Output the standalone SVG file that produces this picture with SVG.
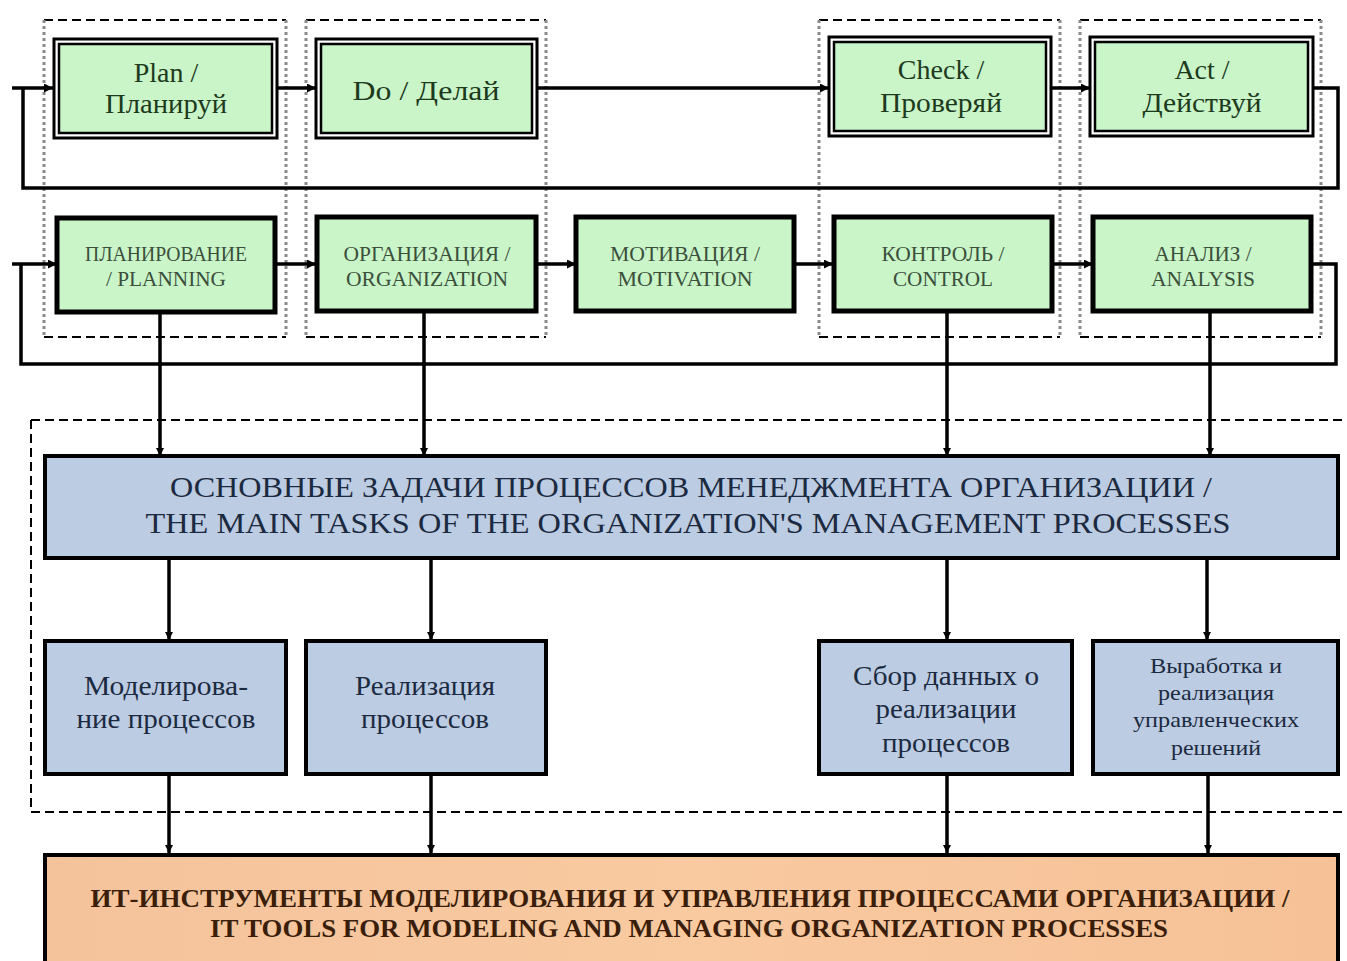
<svg xmlns="http://www.w3.org/2000/svg" width="1347" height="961" viewBox="0 0 1347 961">
<defs>
<marker id="ah" viewBox="0 0 10 10" refX="10" refY="5" markerWidth="13" markerHeight="9" markerUnits="userSpaceOnUse" orient="auto">
<path d="M0,0 L10,5 L0,10 Z" fill="#000"/>
</marker>
<marker id="av" viewBox="0 0 10 10" refX="10" refY="5" markerWidth="10" markerHeight="8" markerUnits="userSpaceOnUse" orient="auto">
<path d="M0,0 L10,5 L0,10 Z" fill="#000"/>
</marker>
<linearGradient id="og" x1="0" y1="0" x2="1" y2="0">
<stop offset="0" stop-color="#f4c39c"/>
<stop offset="0.5" stop-color="#f9c9a0"/>
<stop offset="1" stop-color="#f6c197"/>
</linearGradient>
</defs>
<style>
.frameH{stroke:#000;stroke-width:2;stroke-dasharray:9 5;fill:none}
.frameV{stroke:#8a8a8a;stroke-width:3;stroke-dasharray:3 3;fill:none}
.dbl-out{fill:#fff;stroke:#000;stroke-width:3}
.dbl-in{fill:#c9f5c9;stroke:#000;stroke-width:2.5}
.grn{fill:#c9f5c9;stroke:#000;stroke-width:5}
.blu{fill:#bccce2;stroke:#000;stroke-width:4}
.org{fill:url(#og);stroke:#000;stroke-width:4}
.con{stroke:#000;stroke-width:3.5;fill:none}
text{font-family:"Liberation Serif","Times New Roman",serif;text-anchor:middle}
.t1{font-size:28px;fill:#1d3a1d}
.t2{font-size:22px;fill:#3b4f3b}
.tb{font-size:30px;fill:#1b2a40}
.ts{font-size:28px;fill:#1b2a40}
.tss{font-size:21px;fill:#1b2a40}
.to{font-size:26px;font-weight:bold;fill:#3a1e0a}
</style>
<rect width="1347" height="961" fill="#fff"/>

<g id="frames">
<path class="frameH" d="M44,20 H286 M306,20 H546 M819,20 H1060 M1080,20 H1321"/>
<path class="frameH" d="M44,337 H286 M306,337 H546 M819,337 H1060 M1080,337 H1321"/>
<path class="frameV" d="M44,20 V337 M286,20 V337 M306,20 V337 M546,20 V337 M819,20 V337 M1060,20 V337 M1080,20 V337 M1321,20 V337"/>
<path class="frameH" d="M31,420 H1347 M31,812 H1347"/>
<path stroke="#000" stroke-width="2" stroke-dasharray="9 5" fill="none" d="M31,420 V812"/>
</g>

<g id="connectors">
<path class="con" d="M1313,88 H1338 V188 H23 V88"/>
<path class="con" d="M12,88 H53" marker-end="url(#ah)"/>
<path class="con" d="M277,88 H316" marker-end="url(#ah)"/>
<path class="con" d="M537,88 H829" marker-end="url(#ah)"/>
<path class="con" d="M1051,88 H1090" marker-end="url(#ah)"/>
<path class="con" d="M1311,264 H1336 V364 H21 V264"/>
<path class="con" d="M12,264 H57" marker-end="url(#ah)"/>
<path class="con" d="M275,264 H316" marker-end="url(#ah)"/>
<path class="con" d="M536,264 H576" marker-end="url(#ah)"/>
<path class="con" d="M794,264 H833" marker-end="url(#ah)"/>
<path class="con" d="M1052,264 H1093" marker-end="url(#ah)"/>
<path class="con" d="M160,313 V456" marker-end="url(#av)"/>
<path class="con" d="M424,312 V456" marker-end="url(#av)"/>
<path class="con" d="M947,312 V456" marker-end="url(#av)"/>
<path class="con" d="M1210,312 V456" marker-end="url(#av)"/>
<path class="con" d="M169,558 V640" marker-end="url(#av)"/>
<path class="con" d="M431,558 V640" marker-end="url(#av)"/>
<path class="con" d="M947,558 V640" marker-end="url(#av)"/>
<path class="con" d="M1207,558 V640" marker-end="url(#av)"/>
<path class="con" d="M169,775 V853" marker-end="url(#av)"/>
<path class="con" d="M431,775 V853" marker-end="url(#av)"/>
<path class="con" d="M947,775 V853" marker-end="url(#av)"/>
<path class="con" d="M1208,775 V853" marker-end="url(#av)"/>
</g>

<g id="plan">
<rect class="dbl-out" x="54" y="39" width="223" height="99"/>
<rect class="dbl-in" x="59" y="44" width="213" height="89"/>
<text class="t1" x="166" y="82">Plan /</text>
<text class="t1" x="166" y="113" textLength="122" lengthAdjust="spacingAndGlyphs">Планируй</text>
</g>
<g id="do">
<rect class="dbl-out" x="316" y="39" width="221" height="99"/>
<rect class="dbl-in" x="321" y="44" width="211" height="89"/>
<text class="t1" x="426" y="100" font-size="30" textLength="147" lengthAdjust="spacingAndGlyphs">Do / Делай</text>
</g>
<g id="check">
<rect class="dbl-out" x="829" y="37" width="222" height="99"/>
<rect class="dbl-in" x="834" y="42" width="212" height="89"/>
<text class="t1" x="941" y="79">Check /</text>
<text class="t1" x="941" y="112" textLength="122" lengthAdjust="spacingAndGlyphs">Проверяй</text>
</g>
<g id="act">
<rect class="dbl-out" x="1090" y="37" width="223" height="99"/>
<rect class="dbl-in" x="1095" y="42" width="213" height="89"/>
<text class="t1" x="1202" y="79">Act /</text>
<text class="t1" x="1202" y="112" textLength="119" lengthAdjust="spacingAndGlyphs">Действуй</text>
</g>

<g id="planning">
<rect class="grn" x="57" y="218" width="218" height="94"/>
<text class="t2" x="166" y="261" textLength="162" lengthAdjust="spacingAndGlyphs">ПЛАНИРОВАНИЕ</text>
<text class="t2" x="166" y="286" textLength="120" lengthAdjust="spacingAndGlyphs">/ PLANNING</text>
</g>
<g id="organization">
<rect class="grn" x="317" y="217" width="219" height="94"/>
<text class="t2" x="427" y="261" textLength="167" lengthAdjust="spacingAndGlyphs">ОРГАНИЗАЦИЯ /</text>
<text class="t2" x="427" y="286" textLength="162" lengthAdjust="spacingAndGlyphs">ORGANIZATION</text>
</g>
<g id="motivation">
<rect class="grn" x="576" y="217" width="218" height="94"/>
<text class="t2" x="685" y="261" textLength="150" lengthAdjust="spacingAndGlyphs">МОТИВАЦИЯ /</text>
<text class="t2" x="685" y="286" textLength="135" lengthAdjust="spacingAndGlyphs">MOTIVATION</text>
</g>
<g id="control">
<rect class="grn" x="834" y="217" width="218" height="94"/>
<text class="t2" x="943" y="261" textLength="123" lengthAdjust="spacingAndGlyphs">КОНТРОЛЬ /</text>
<text class="t2" x="943" y="286" textLength="100" lengthAdjust="spacingAndGlyphs">CONTROL</text>
</g>
<g id="analysis">
<rect class="grn" x="1093" y="217" width="218" height="94"/>
<text class="t2" x="1203" y="261" textLength="97" lengthAdjust="spacingAndGlyphs">АНАЛИЗ /</text>
<text class="t2" x="1203" y="286" textLength="104" lengthAdjust="spacingAndGlyphs">ANALYSIS</text>
</g>

<g id="main-tasks">
<rect class="blu" x="45" y="456" width="1293" height="102"/>
<text class="tb" x="691" y="497" textLength="1042" lengthAdjust="spacingAndGlyphs">ОСНОВНЫЕ ЗАДАЧИ ПРОЦЕССОВ МЕНЕДЖМЕНТА ОРГАНИЗАЦИИ /</text>
<text class="tb" x="688" y="533" textLength="1085" lengthAdjust="spacingAndGlyphs">THE MAIN TASKS OF THE ORGANIZATION'S MANAGEMENT PROCESSES</text>
</g>

<g id="modeling">
<rect class="blu" x="45" y="641" width="241" height="133"/>
<text class="ts" x="166" y="695" textLength="164" lengthAdjust="spacingAndGlyphs">Моделирова-</text>
<text class="ts" x="166" y="728" textLength="179" lengthAdjust="spacingAndGlyphs">ние процессов</text>
</g>
<g id="realization">
<rect class="blu" x="306" y="641" width="240" height="133"/>
<text class="ts" x="425" y="695" textLength="140" lengthAdjust="spacingAndGlyphs">Реализация</text>
<text class="ts" x="425" y="728" textLength="128" lengthAdjust="spacingAndGlyphs">процессов</text>
</g>
<g id="data-collection">
<rect class="blu" x="819" y="641" width="253" height="133"/>
<text class="ts" x="946" y="685" textLength="186" lengthAdjust="spacingAndGlyphs">Сбор данных о</text>
<text class="ts" x="946" y="718" textLength="141" lengthAdjust="spacingAndGlyphs">реализации</text>
<text class="ts" x="946" y="752" textLength="128" lengthAdjust="spacingAndGlyphs">процессов</text>
</g>
<g id="decisions">
<rect class="blu" x="1093" y="641" width="245" height="133"/>
<text class="tss" x="1216" y="673" textLength="132" lengthAdjust="spacingAndGlyphs">Выработка и</text>
<text class="tss" x="1216" y="700" textLength="116" lengthAdjust="spacingAndGlyphs">реализация</text>
<text class="tss" x="1216" y="727" textLength="166" lengthAdjust="spacingAndGlyphs">управленческих</text>
<text class="tss" x="1216" y="755" textLength="90" lengthAdjust="spacingAndGlyphs">решений</text>
</g>

<g id="it-tools">
<rect class="org" x="45" y="855" width="1293" height="115"/>
<text class="to" x="690" y="907" textLength="1199" lengthAdjust="spacingAndGlyphs">ИТ-ИНСТРУМЕНТЫ МОДЕЛИРОВАНИЯ И УПРАВЛЕНИЯ ПРОЦЕССАМИ ОРГАНИЗАЦИИ /</text>
<text class="to" x="689" y="937" textLength="958" lengthAdjust="spacingAndGlyphs">IT TOOLS FOR MODELING AND MANAGING ORGANIZATION PROCESSES</text>
</g>
</svg>
